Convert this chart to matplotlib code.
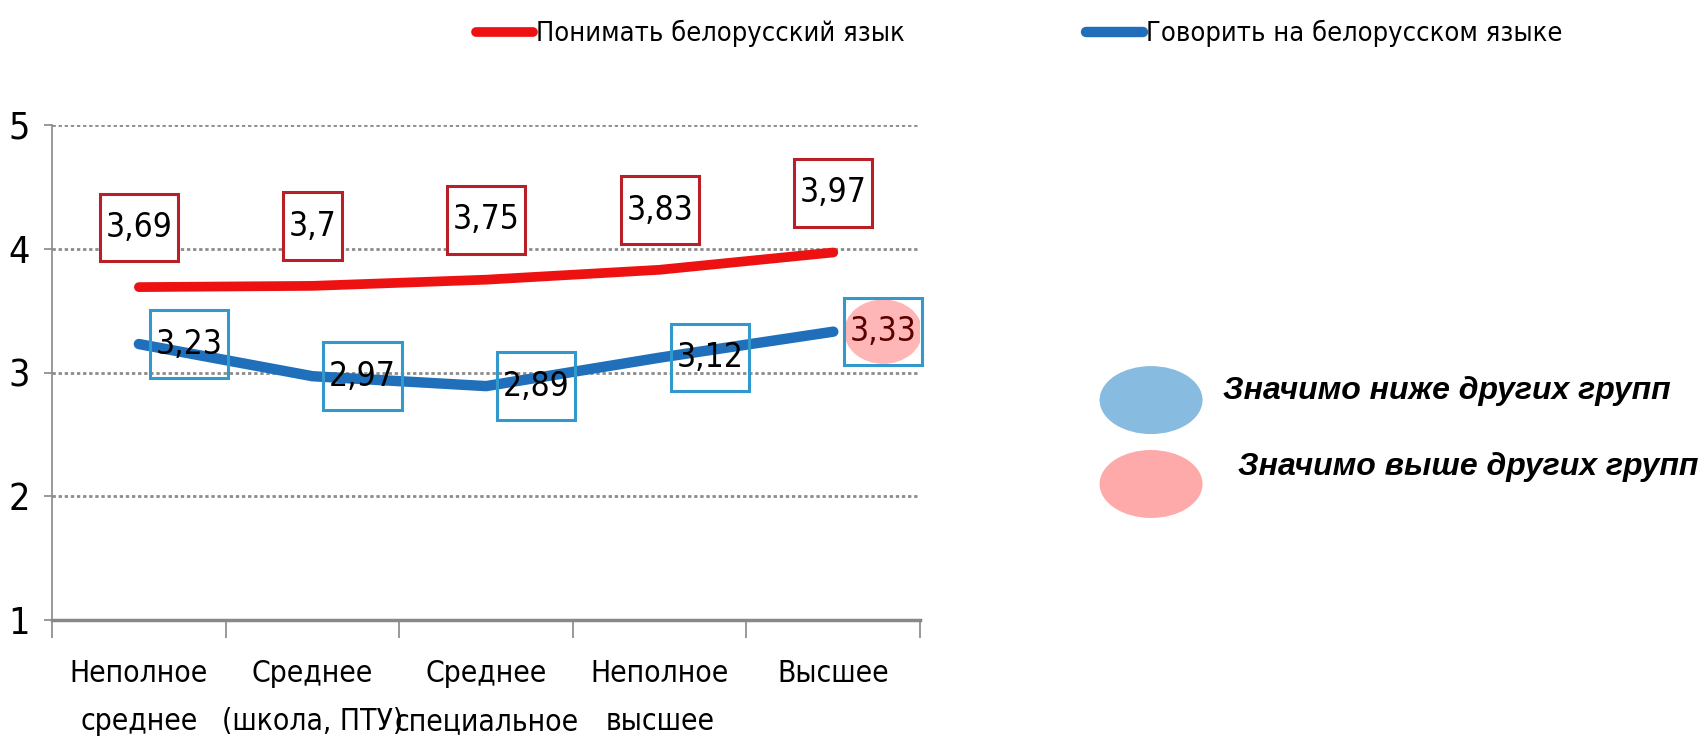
import matplotlib
matplotlib.use("Agg")
import matplotlib.pyplot as plt
from matplotlib import font_manager
from matplotlib.ft2font import FT2Font
from matplotlib.patches import Ellipse
from matplotlib.path import Path
from matplotlib.transforms import offset_copy

CATEGORIES = ["Неполное\nсреднее", "Среднее\n(школа, ПТУ)", "Среднее\nспециальное",
              "Неполное\nвысшее", "Высшее"]
UNDERSTAND = [3.69, 3.70, 3.75, 3.83, 3.97]
SPEAK = [3.23, 2.97, 2.89, 3.12, 3.33]
UNDERSTAND_LABELS = ["3,69", "3,7", "3,75", "3,83", "3,97"]
SPEAK_LABELS = ["3,23", "2,97", "2,89", "3,12", "3,33"]
# "high" = значимо выше других групп, "low" = значимо ниже
SPEAK_FLAGS = ["", "", "", "", "high"]
SERIES_NAMES = ["Понимать белорусский язык", "Говорить на белорусском языке"]
NOTE_LOW = "Значимо ниже других групп"
NOTE_HIGH = "Значимо выше других групп"
Y_TICKS = [1, 2, 3, 4, 5]

RED = "#ee1111"
BLUE = "#1f6fba"
RED_EDGE = "#b81f26"
BLUE_EDGE = "#3399cc"
LOW_FILL = "#88bbe0"
HIGH_FILL = "#ffaaaa"


def has_cyrillic(path):
    try:
        ft = FT2Font(path)
        return all(ft.get_char_index(ord(c)) for c in "НеполПТУ")
    except Exception:
        return False


# the original uses Arial Narrow; find some narrow face with Cyrillic
narrow, stretch = None, "normal"
for f in font_manager.fontManager.ttflist:
    n = f.name
    is_narrow = ("Narrow" in n or "Condensed" in n or
                 f.stretch in ("condensed", "semi-condensed", "extra-condensed"))
    if not is_narrow or "Mono" in n or "Serif" in n or f.style != "normal":
        continue
    if f.weight not in (400, "normal", "regular"):
        continue
    if has_cyrillic(f.fname):
        narrow, stretch = n, f.stretch
        break
if narrow is None:
    narrow = "Liberation Sans"
plt.rcParams["font.family"] = [narrow, "DejaVu Sans"]
plt.rcParams["font.stretch"] = stretch


def tall_box(x0, y0, width, height, mutation_size):
    # Excel-like label frame: little side padding, more above and below
    px, py = 0.17 * mutation_size, 0.52 * mutation_size
    x0, y0 = x0 - px, y0 - py
    x1, y1 = x0 + width + 2 * px, y0 + height + 2 * py
    return Path([(x0, y0), (x1, y0), (x1, y1), (x0, y1), (x0, y0)], closed=True)


fig = plt.figure(figsize=(17.02, 7.52), dpi=100)
ax = fig.add_axes([0.0306, 0.1755, 0.5100, 0.6583])

x = list(range(len(CATEGORIES)))
l1, = ax.plot(x, UNDERSTAND, color=RED, lw=7, solid_capstyle="round",
              solid_joinstyle="round", zorder=3)
l2, = ax.plot(x, SPEAK, color=BLUE, lw=7.5, solid_capstyle="round",
              solid_joinstyle="round", zorder=3)

fs = 24
for i, (v, s) in enumerate(zip(UNDERSTAND, UNDERSTAND_LABELS)):
    ax.annotate(s, (i, v), xytext=(0, 43), textcoords="offset points",
                ha="center", va="center", fontsize=fs, zorder=5,
                bbox=dict(boxstyle=tall_box, fc="white", ec=RED_EDGE, lw=2.2))

hl_tr = offset_copy(ax.transData, fig=fig, x=36, y=0, units="points")
for i, (v, s, f) in enumerate(zip(SPEAK, SPEAK_LABELS, SPEAK_FLAGS)):
    if f:
        ax.add_patch(Ellipse((i, v), 0.45, 0.52, transform=hl_tr, zorder=6,
                             fc=HIGH_FILL if f == "high" else LOW_FILL, ec="none", alpha=0.85))
    ax.annotate(s, (i, v), xytext=(36, 0), textcoords="offset points",
                ha="center", va="center", fontsize=fs, zorder=7,
                color="#5a0000" if f == "high" else "black",
                bbox=dict(boxstyle=tall_box, fc="none", ec=BLUE_EDGE, lw=2.2))

ax.set_xlim(-0.5, len(CATEGORIES) - 0.5)
ax.set_ylim(1, 5)
ax.set_yticks(Y_TICKS)
ax.set_yticklabels([str(t) for t in Y_TICKS], fontsize=27)
ax.set_xticks([i - 0.5 for i in range(len(CATEGORIES) + 1)])
ax.set_xticklabels([])
ax.set_xticks(x, minor=True)
ax.set_xticklabels(CATEGORIES, minor=True, fontsize=21.5, linespacing=1.85)
ax.tick_params(axis="x", which="minor", length=0, pad=28)
ax.tick_params(axis="x", which="major", length=13, width=1.2, color="#888888", direction="out")
ax.tick_params(axis="y", length=6, width=1.2, color="#888888", pad=10)

for yv in Y_TICKS[1:]:
    ax.axhline(yv, color="#8c8c8c", lw=2, ls=(0, (1.2, 1.0)), zorder=1)
for side in ["top", "right"]:
    ax.spines[side].set_visible(False)
ax.spines["left"].set_color("#888888")
ax.spines["left"].set_linewidth(1.2)
ax.spines["bottom"].set_color("#888888")
ax.spines["bottom"].set_linewidth(2.5)

fig.legend([l1, l2], SERIES_NAMES, loc="center left", bbox_to_anchor=(0.2735, 0.955),
           ncol=2, frameon=False, fontsize=19.5, handlelength=2.1, handletextpad=0.1,
           columnspacing=6.7, borderaxespad=0)

fig.patches.append(Ellipse((0.6763, 0.468), 0.0605, 0.0904, transform=fig.transFigure,
                           fc=LOW_FILL, ec="none", figure=fig))
fig.patches.append(Ellipse((0.6763, 0.3564), 0.0605, 0.0904, transform=fig.transFigure,
                           fc=HIGH_FILL, ec="none", figure=fig))
fig.text(0.7186, 0.48, NOTE_LOW, family="Liberation Sans", fontsize=23,
         fontweight="bold", fontstyle="italic", va="center")
fig.text(0.7274, 0.379, NOTE_HIGH, family="Liberation Sans", fontsize=23,
         fontweight="bold", fontstyle="italic", va="center")

fig.savefig("out.png", dpi=100)
